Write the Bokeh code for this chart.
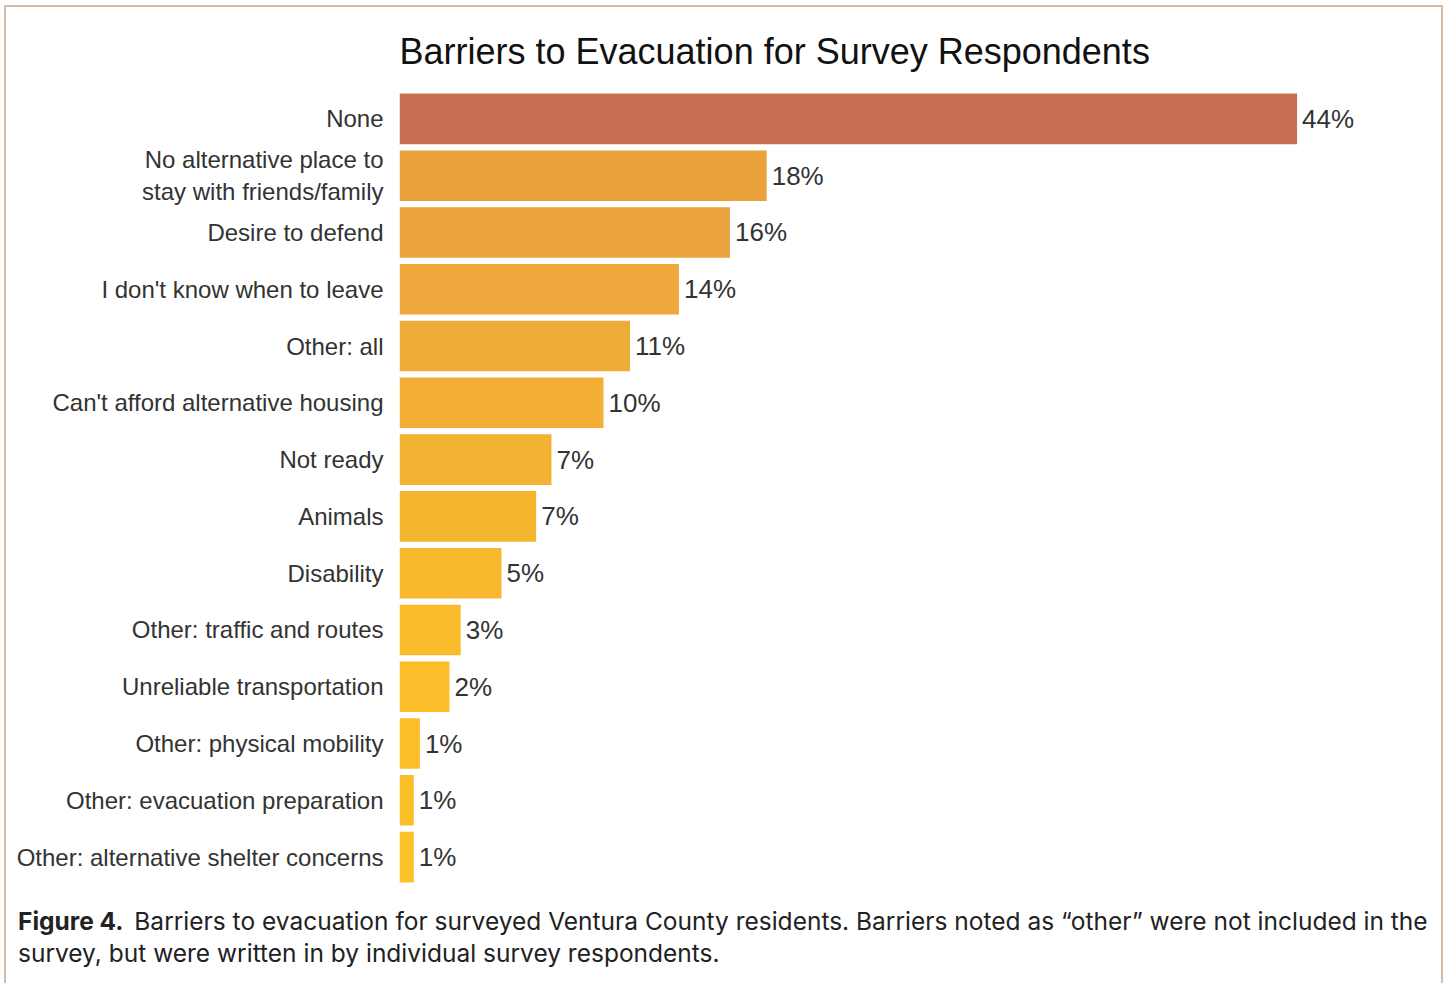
from bokeh.plotting import figure
from bokeh.layouts import column
from bokeh.models import ColumnDataSource, FactorRange, Range1d, Div
from bokeh.embed import file_html
from bokeh.resources import INLINE
from bokeh.core.properties import value

# Barriers, top to bottom, with share of respondents (%)
barriers = [
    "None",
    "No alternative place to\nstay with friends/family",
    "Desire to defend",
    "I don't know when to leave",
    "Other: all",
    "Can't afford alternative housing",
    "Not ready",
    "Animals",
    "Disability",
    "Other: traffic and routes",
    "Unreliable transportation",
    "Other: physical mobility",
    "Other: evacuation preparation",
    "Other: alternative shelter concerns",
]
shares = [44.0, 18.0, 16.2, 13.7, 11.3, 10.0, 7.45, 6.7, 5.0, 3.0, 2.45, 1.0, 0.7, 0.7]

# warm ramp from terracotta to golden yellow
bar_colors = [
    "#C96F52", "#EAA03B", "#EBA23C", "#EEA83B", "#F0AC38", "#F2AE35", "#F4B232",
    "#F5B52F", "#F7B82D", "#FABC2A", "#FBBD29", "#FCBF27", "#FCBF27", "#FDC026",
]

labels = [f"{round(v)}%" for v in shares]

caption_lead = "Figure 4."
caption_line1 = ("Barriers to evacuation for surveyed Ventura County residents. "
                 "Barriers noted as \u201cother\u201d were not included in the")
caption_line2 = "survey, but were written in by individual survey respondents."

src = ColumnDataSource(dict(barrier=barriers, share=shares, color=bar_colors, label=labels))

FONT = "Liberation Sans"
CAP_FONT = "Inter"
FRAME = "2px solid #D6BCA6"

p = figure(
    width=1439, height=890,
    y_range=FactorRange(factors=list(reversed(barriers))),
    x_range=Range1d(0, 50.1),
    output_backend="svg", toolbar_location=None,
    min_border_left=393, min_border_right=24, min_border_top=83, min_border_bottom=12,
    title="Barriers to Evacuation for Survey Respondents",
    margin=0,
)
p.styles = {"border-left": FRAME, "border-top": FRAME, "border-right": FRAME}

p.title.align = "left"
p.title.text_font = FONT
p.title.text_font_size = "36px"
p.title.text_font_style = "normal"
p.title.text_color = "#111111"
p.title.standoff = 38

p.hbar(y="barrier", right="share", left=0, height=0.89, color="color",
       line_color=None, source=src)

p.text(x="share", y="barrier", text="label", source=src,
       x_offset=5, text_baseline="middle", text_align="left",
       text_font=value(FONT), text_font_size="26px", text_color="#333333")

p.xaxis.visible = False
p.yaxis.axis_line_color = None
p.yaxis.major_tick_line_color = None
p.yaxis.minor_tick_line_color = None
p.yaxis.major_label_standoff = 10
p.yaxis.major_label_text_font = FONT
p.yaxis.major_label_text_font_size = "24px"
p.yaxis.major_label_text_color = "#333333"
p.xgrid.grid_line_color = None
p.ygrid.grid_line_color = None
p.outline_line_color = None

# caption beneath the chart
cap = Div(
    text=(f'<b style="font-weight:700;margin-right:4px">{caption_lead}</b> {caption_line1}'
          f'<br>{caption_line2}'),
    width=1439, height=88, margin=0,
    styles={
        "border-left": FRAME, "border-right": FRAME,
        "box-sizing": "border-box",
        "padding": "10px 0 0 12px",
        "font-family": CAP_FONT, "font-size": "24.5px", "line-height": "32px",
        "color": "#222222", "white-space": "nowrap", "overflow": "hidden",
    },
)

layout = column(p, cap, spacing=0, styles={"margin-left": "4px", "margin-top": "5px"})

open("out.html", "w").write(file_html(layout, INLINE))
